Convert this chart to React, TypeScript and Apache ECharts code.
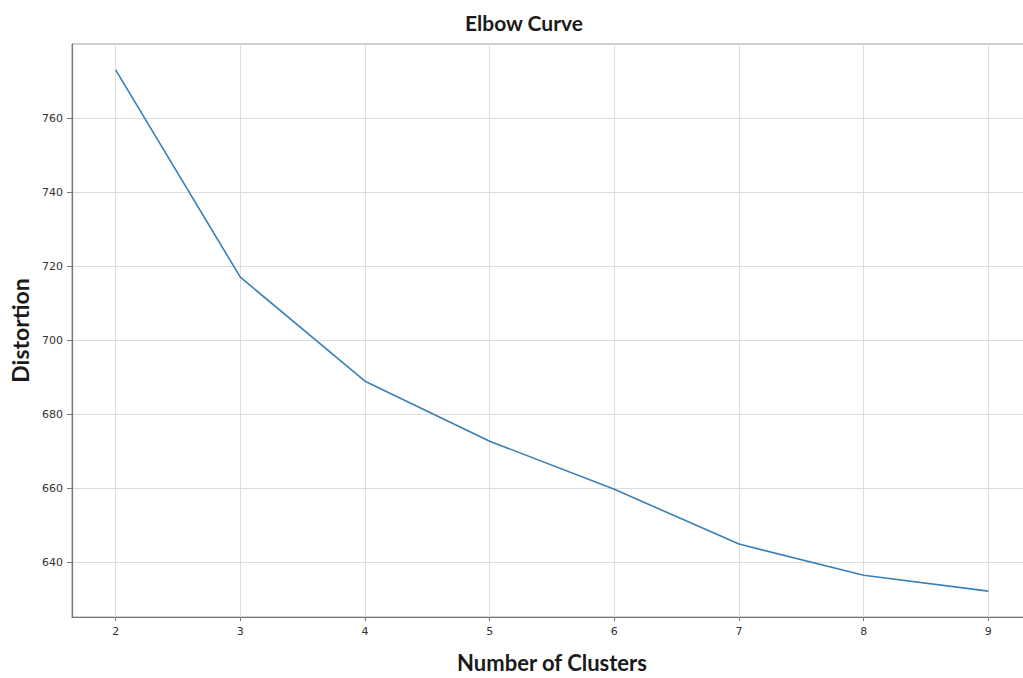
import React, { useEffect, useRef } from "react";
import * as echarts from "echarts";

const clusters = [2, 3, 4, 5, 6, 7, 8, 9];
const distortion = [773.0, 717.0, 688.9, 672.7, 659.7, 644.9, 636.5, 632.2];
const xTicks = [2, 3, 4, 5, 6, 7, 8, 9];
const yTicks = [640, 660, 680, 700, 720, 740, 760];
const titleText = "Elbow Curve";
const xName = "Number of Clusters";
const yName = "Distortion";

export default function App() {
  const ref = useRef<HTMLDivElement>(null);
  useEffect(() => {
    if (!ref.current) return;
    const chart = echarts.init(ref.current, undefined, { renderer: "svg" });
    const boldFont = "Lato, 'Open Sans', sans-serif";
    const tickFont = "'DejaVu Sans', sans-serif";
    chart.setOption({
      animation: false,
      backgroundColor: "#ffffff",
      title: {
        text: titleText,
        left: 519,
        top: 7,
        textAlign: "center",
        textStyle: { fontFamily: boldFont, fontWeight: "bold", fontSize: 21, color: "#1a1a1a" },
      },
      grid: {
        left: 72,
        top: 44,
        width: 960,
        height: 573,
        containLabel: false,
        outerBoundsMode: "none",
        show: true,
        borderColor: "#a0a0a0",
        borderWidth: 1,
      },
      xAxis: {
        type: "value",
        min: 1.65,
        max: 9.35,
        name: xName,
        nameLocation: "middle",
        nameGap: 34,
        nameTextStyle: { fontFamily: boldFont, fontWeight: "bold", fontSize: 22, color: "#1a1a1a" },
        axisLine: { show: true, lineStyle: { color: "#777777", width: 1.2 } },
        axisTick: { show: true, length: 4, customValues: xTicks, lineStyle: { color: "#777777" } },
        axisLabel: {
          customValues: xTicks,
          margin: 9,
          fontFamily: tickFont,
          fontSize: 11,
          color: "#333333",
        },
        splitLine: { show: true, lineStyle: { color: "#dcdcdc", width: 1 } },
      },
      yAxis: {
        type: "value",
        min: 625.2,
        max: 780,
        name: yName,
        nameLocation: "middle",
        nameGap: 39,
        nameRotate: 90,
        nameTextStyle: { fontFamily: boldFont, fontWeight: "bold", fontSize: 23, color: "#1a1a1a" },
        axisLine: { show: true, lineStyle: { color: "#777777", width: 1.2 } },
        axisTick: { show: true, length: 5, customValues: yTicks, lineStyle: { color: "#777777" } },
        axisLabel: {
          customValues: yTicks,
          margin: 9,
          fontFamily: tickFont,
          fontSize: 11,
          color: "#333333",
        },
        splitLine: { show: true, lineStyle: { color: "#dcdcdc", width: 1 } },
      },
      series: [
        {
          type: "line",
          data: clusters.map((c, i) => [c, distortion[i]]),
          showSymbol: false,
          symbol: "none",
          lineStyle: { color: "#3b7fb3", width: 1.6 },
        },
      ],
    });
    return () => chart.dispose();
  }, []);
  return (
    <div
      ref={ref}
      style={{ position: "fixed", left: 0, top: 0, width: 1023, height: 678, background: "#fff" }}
    />
  );
}
